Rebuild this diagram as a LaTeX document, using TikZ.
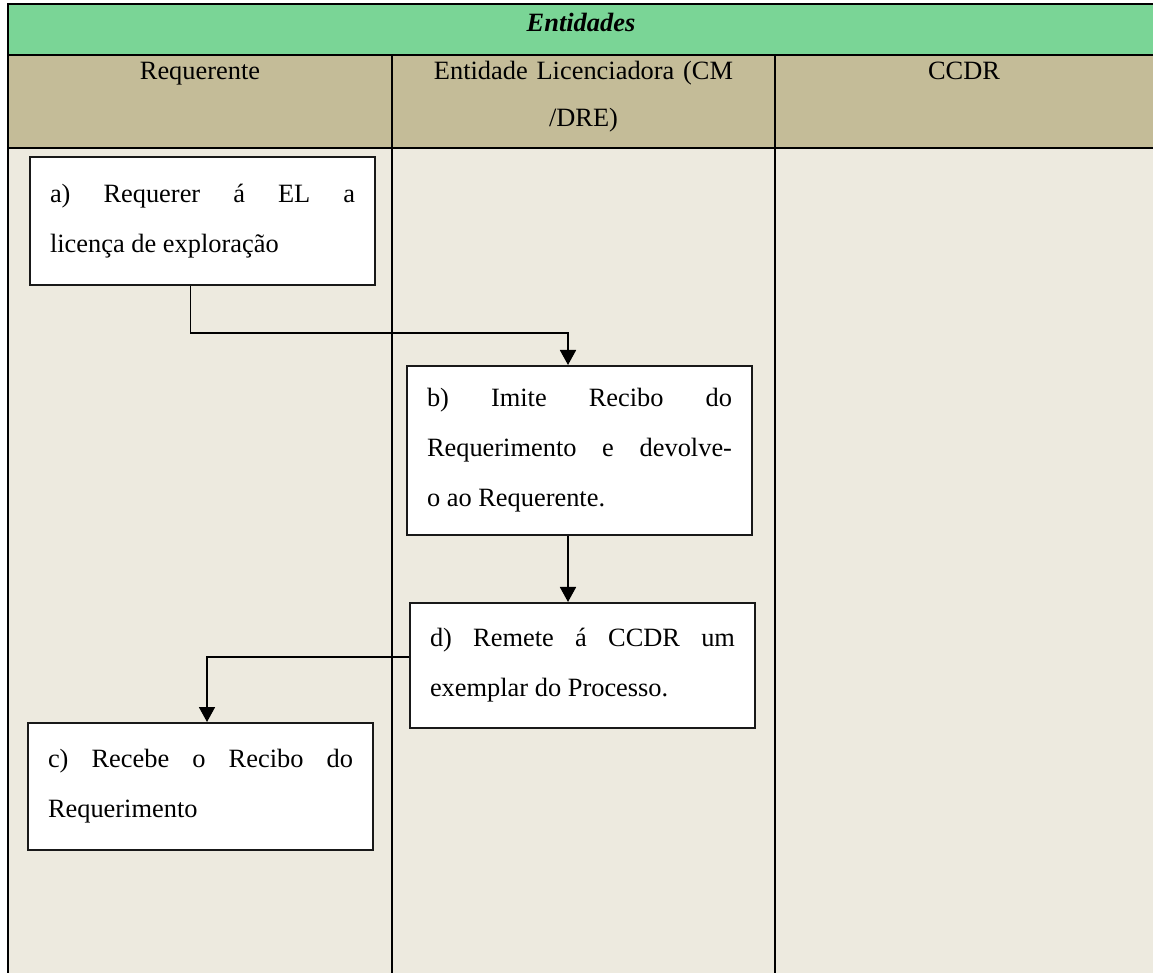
\documentclass[tikz,border=0pt]{standalone}
\usepackage{fontspec}
\setmainfont{Liberation Serif}
\usetikzlibrary{shapes,arrows,arrows.meta}
\usetikzlibrary{calc}
\definecolor{mygreen}{RGB}{122, 213, 150}
\definecolor{mytan}{RGB}{196, 188, 152}
\definecolor{mycream}{RGB}{237, 234, 223}

\begin{document}
\begin{tikzpicture}[x=0.5pt,y=-0.5pt]

\tikzstyle{grid} = [line width=1pt, draw=black]
\tikzstyle{head} = [anchor=base, text width=180pt, align=center, inner sep=0, font=\fontsize{13.2}{23.5}\selectfont]
\tikzstyle{stepbox} = [draw=black!90, line width=1pt, fill=white, text width=152.5pt, inner xsep=10pt, inner ysep=0, align=justify, font=\fontsize{13.2}{25}\selectfont]
\tikzstyle{conn} = [line width=0.9pt, -{Triangle[width=8pt,length=7.5pt]}]

\useasboundingbox (0,0) rectangle (1153,973);

% fundos
\fill[mygreen] (8,4) rectangle (1153,55);
\fill[mytan] (8,55) rectangle (1153,148);
\fill[mycream] (8,148) rectangle (1153,973);

% linhas da tabela
\draw[grid] (1153,4) -- (8,4) -- (8,973);
\draw[grid] (8,55) -- (1153,55);
\draw[grid] (8,148) -- (1153,148);
\draw[grid] (392,55) -- (392,973);
\draw[grid] (775,55) -- (775,973);

\node[head, font=\fontsize{13.2}{23.5}\selectfont\bfseries\itshape] (titulo) at (581,32) {Entidades};
\node[head] (requerente) at (200,80) {Requerente};
\node[head] (licenciadora) at (583.5,80) {Entidade Licenciadora (CM\\/DRE)};
\node[head] (ccdr) at (964,80) {CCDR};

% passos
\node[stepbox, minimum height=64pt] (a) at (202.5,221) {a) Requerer á EL a\linebreak licença de exploração};
\node[stepbox, minimum height=84.5pt] (b) at (579.5,450.5) {b) Imite Recibo do\linebreak Requerimento e devolve-\linebreak o ao Requerente.};
\node[stepbox, minimum height=62.5pt] (d) at (582.5,665.5) {d) Remete á CCDR um\linebreak exemplar do Processo.};
\node[stepbox, minimum height=63.5pt] (c) at (200.5,786.5) {c) Recebe o Recibo do\linebreak Requerimento};

\draw[conn] ([xshift=-6pt]a.south) -- ++(0,47) -| ([xshift=-5.75pt]b.north);
\draw[conn] ([xshift=-5.75pt]b.south) -- ([xshift=-5.75pt]b.south |- d.north);
\draw[conn] ([yshift=4.25pt]d.west) -| ([xshift=3.25pt]c.north);

\end{tikzpicture}
\end{document}
